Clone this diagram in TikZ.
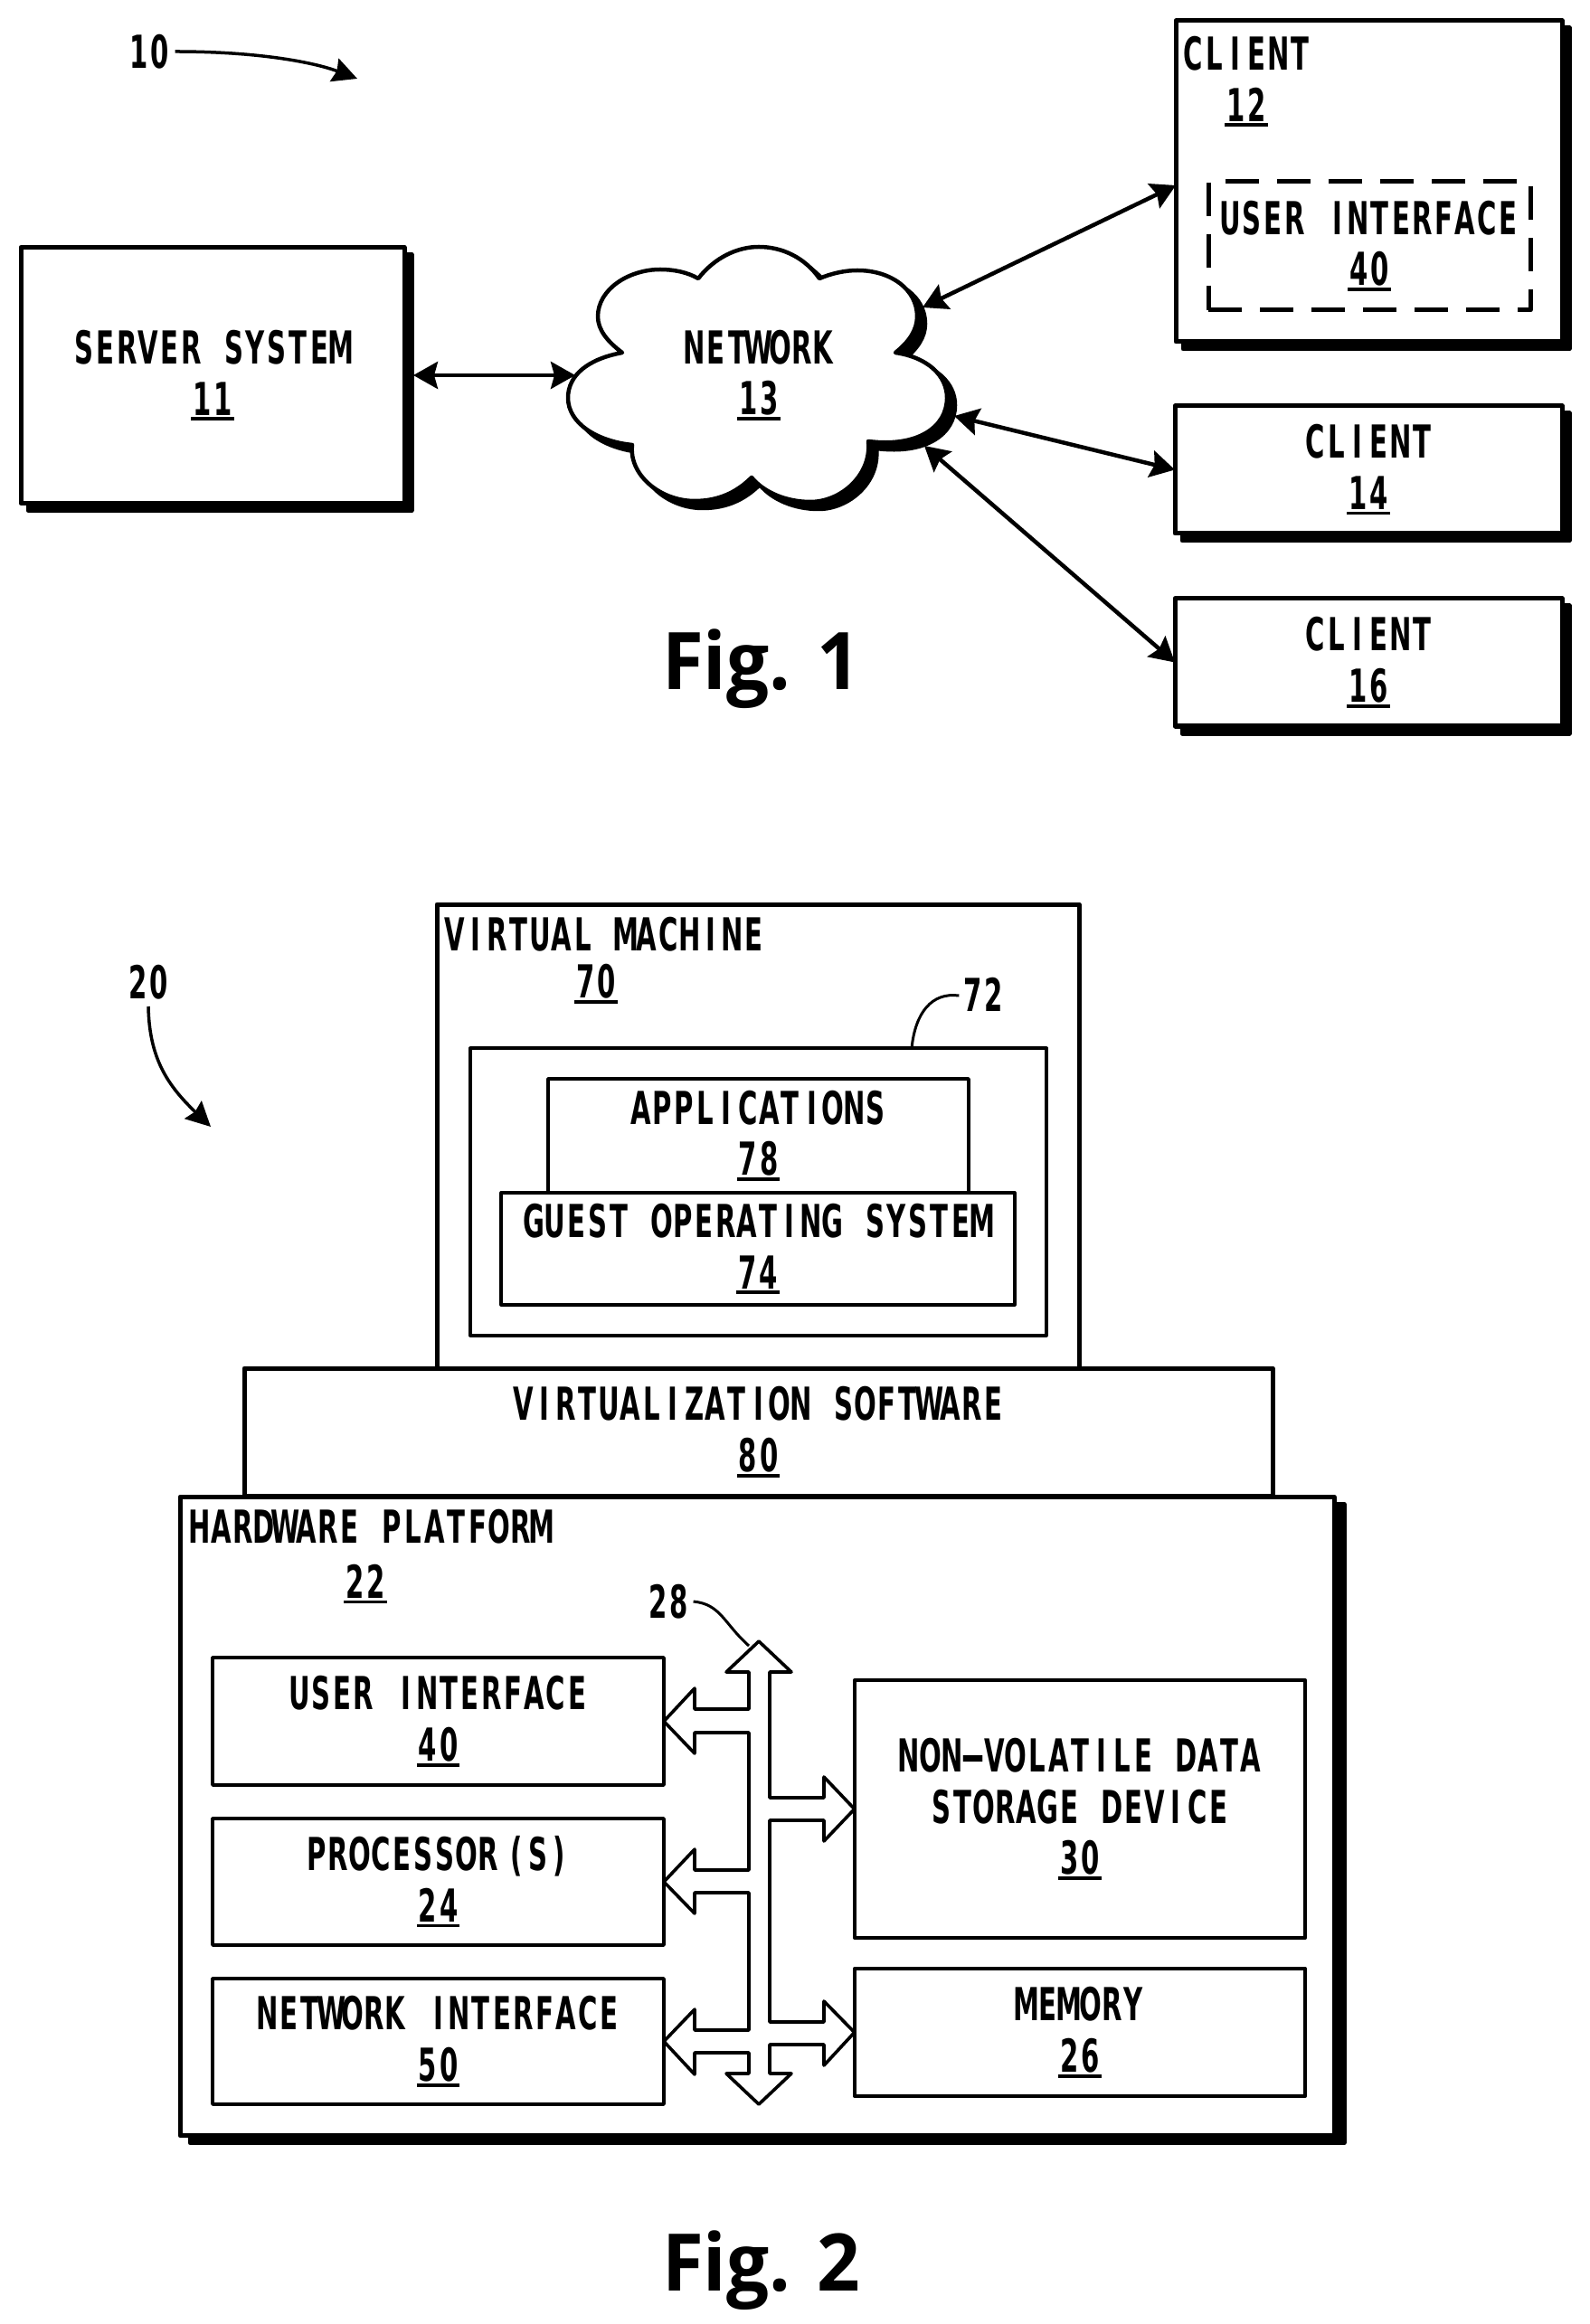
\documentclass[tikz,border=0pt]{standalone}
\usepackage{fontspec}
\usetikzlibrary{arrows.meta}
\usetikzlibrary{shadows}

\newfontfamily\lblfam{DejaVu Sans}[FakeStretch=0.58]
\newfontfamily\figfam{Open Sans}[FakeStretch=0.95]
\newcommand{\lblfont}{\lblfam\bfseries\fontsize{14.3}{16.2}\selectfont}

% every letter sits in a cell of the same width
\let\monoend\relax
\newlength{\monow}
\setlength{\monow}{6.72pt}
\def\monochar#1{\ifx#1\monoend\else\makebox[\monow]{#1}\expandafter\monochar\fi}
\newcommand{\mono}[1]{\monochar#1\monoend}
\newcommand{\refnum}[1]{\leavevmode\vtop{\hbox{\mono{#1}}\kern0.5pt\hrule height 1.1pt}}
\newcommand{\widedash}{\scalebox{2.4}[1]{-}}

\tikzset{
  box/.style={draw,fill=white,line width=0.05cm,line join=round,inner sep=0pt,outer sep=0pt,align=center,font=\lblfont},
  thinbox/.style={box,line width=0.036cm},
  shadowbox/.style={box,general shadow={fill=black,draw=black,shadow xshift=#1,shadow yshift=-0.08cm}},
  shadowbox/.default=0.08cm,
  dashbox/.style={box,fill=none,dash pattern=on 0.37cm off 0.2cm},
  lbl/.style={inner sep=0pt,outer sep=0pt,align=center,font=\lblfont},
  figlbl/.style={anchor=base,inner sep=0pt,outer sep=0pt,font=\figfam\bfseries\fontsize{25}{25}\selectfont},
  link/.style={line width=0.045cm,{Stealth[length=0.27cm,width=0.30cm,inset=0.04cm]}-{Stealth[length=0.27cm,width=0.30cm,inset=0.04cm]}},
  pointer/.style={line width=0.035cm,-{Stealth[length=0.27cm,width=0.27cm,inset=0.03cm]}},
  leader/.style={line width=0.03cm},
  bus/.style={draw,fill=white,line width=0.036cm,line join=round}
}

\newcommand{\cloudpath}{
  (7.72,-3.08) .. controls (7.90,-2.85) and (8.15,-2.73) .. (8.39,-2.73)
  .. controls (8.65,-2.73) and (8.90,-2.85) .. (9.06,-3.08)
  .. controls (9.20,-3.02) and (9.35,-2.99) .. (9.48,-2.99)
  .. controls (9.85,-2.99) and (10.14,-3.20) .. (10.14,-3.50)
  .. controls (10.14,-3.65) and (10.05,-3.78) .. (9.90,-3.90)
  .. controls (10.25,-3.95) and (10.47,-4.15) .. (10.47,-4.40)
  .. controls (10.47,-4.72) and (10.15,-4.95) .. (9.60,-4.88)
  .. controls (9.64,-5.25) and (9.30,-5.55) .. (8.96,-5.55)
  .. controls (8.70,-5.55) and (8.45,-5.45) .. (8.31,-5.28)
  .. controls (8.15,-5.44) and (7.95,-5.54) .. (7.68,-5.54)
  .. controls (7.30,-5.54) and (6.95,-5.25) .. (6.99,-4.92)
  .. controls (6.60,-4.88) and (6.28,-4.68) .. (6.28,-4.40)
  .. controls (6.28,-4.15) and (6.50,-3.97) .. (6.88,-3.90)
  .. controls (6.72,-3.78) and (6.61,-3.65) .. (6.61,-3.50)
  .. controls (6.61,-3.20) and (6.95,-2.98) .. (7.30,-2.98)
  .. controls (7.45,-2.98) and (7.60,-3.01) .. (7.72,-3.08) -- cycle}

\begin{document}
\begin{tikzpicture}
  \useasboundingbox (0,0) rectangle (17.57,-25.70);

  % Fig. 1
  \node[lbl] (num10) at (1.65,-0.57) {\mono{10}};
  \coordinate (aim10) at (3.95,-0.87);
  \draw[pointer] (num10.east) ++(0.05,0) .. controls (2.90,-0.57) and (3.50,-0.70) .. (aim10);

  % Server
  \node[shadowbox,minimum width=4.24cm,minimum height=2.83cm] (server) at (2.35,-4.15)
    {\mono{SERVER~SYSTEM}\\\refnum{11}};

  % Network
  \filldraw[black,line width=0.045cm,line join=round,shift={(0.09,-0.08)}] \cloudpath;
  \draw[fill=white,line width=0.045cm,line join=round] \cloudpath;
  \node[lbl] (network) at (8.39,-4.15) {\mono{NETWORK}\\\refnum{13}};
  \coordinate (netw) at (6.36,-4.15);
  \coordinate (netne) at (10.20,-3.40);
  \coordinate (nete) at (10.55,-4.60);
  \coordinate (netse) at (10.22,-4.93);

  % Clients
  \node[shadowbox,minimum width=4.27cm,minimum height=3.55cm] (client12) at (15.135,-2.005) {};
  \node[lbl] (client12lbl) at (13.78,-0.90) {\mono{CLIENT}\\\refnum{12}};
  \node[dashbox,minimum width=3.56cm,minimum height=1.42cm] (ui40) at (15.14,-2.72)
    {\mono{USER~INTERFACE}\\\refnum{40}};
  \node[shadowbox,minimum width=4.28cm,minimum height=1.41cm] (client14) at (15.13,-5.195)
    {\mono{CLIENT}\\\refnum{14}};
  \node[shadowbox,minimum width=4.28cm,minimum height=1.41cm] (client16) at (15.13,-7.325)
    {\mono{CLIENT}\\\refnum{16}};

  % Links
  \draw[link] (server.east) ++(0.10,0) -- (netw);
  \draw[link] (netne) -- (client12.west |- 0,-2.05);
  \draw[link] (nete) -- (client14.west);
  \draw[link] (netse) -- (client16.west);

  \node[figlbl] (fig1) at (8.415,-7.62) {Fig. 1};

  % Fig. 2
  \node[lbl] (num20) at (1.64,-10.86) {\mono{20}};
  \coordinate (aim20) at (2.33,-12.46);
  \draw[pointer] (num20.south) ++(0,-0.08) .. controls (1.65,-11.70) and (1.85,-12.00) .. (aim20);

  % Virtual machine
  \node[box,minimum width=7.10cm,minimum height=5.13cm] (vm) at (8.38,-12.565) {};
  \node[lbl] (vmname) at (6.68,-10.33) {\mono{VIRTUAL~MACHINE}};
  \node[lbl] (vmnum) at (6.59,-10.88) {\refnum{70}};
  \node[thinbox,minimum width=6.37cm,minimum height=3.175cm] (guest) at (8.385,-13.18) {};
  \node[lbl] (num72) at (10.87,-11.00) {\mono{72}};
  \draw[leader] (num72.west) ++(-0.03,-0.01) .. controls (10.30,-10.97) and (10.12,-11.20) .. (10.08,-11.59);
  \node[thinbox,minimum width=4.65cm,minimum height=1.26cm] (apps) at (8.385,-12.56)
    {\mono{APPLICATIONS}\\\refnum{78}};
  \node[thinbox,minimum width=5.675cm,minimum height=1.24cm] (guestos) at (8.38,-13.81)
    {\mono{GUEST~OPERATING~SYSTEM}\\\refnum{74}};

  % Virtualization layer
  \node[box,minimum width=11.37cm,minimum height=1.41cm] (virt) at (8.385,-15.835)
    {\mono{VIRTUALIZATION~SOFTWARE}\\\refnum{80}};

  % Hardware
  \node[shadowbox=0.11cm,minimum width=12.76cm,minimum height=7.065cm] (hw) at (8.37,-20.085) {};
  \node[lbl] (hwname) at (4.10,-16.88) {\mono{HARDWARE~PLATFORM}};
  \node[lbl] (hwnum) at (4.04,-17.52) {\refnum{22}};

  \node[thinbox,minimum width=4.99cm,minimum height=1.41cm] (ui) at (4.845,-19.035)
    {\mono{USER~INTERFACE}\\\refnum{40}};
  \node[thinbox,minimum width=4.99cm,minimum height=1.40cm] (cpu) at (4.845,-20.81)
    {\mono{PROCESSOR}\,\mono{(S)}\\\refnum{24}};
  \node[thinbox,minimum width=4.99cm,minimum height=1.39cm] (nic) at (4.845,-22.575)
    {\mono{NETWORK~INTERFACE}\\\refnum{50}};
  \node[thinbox,minimum width=4.985cm,minimum height=2.85cm] (disk) at (11.94,-20.005)
    {\mono{NON\widedash VOLATILE~DATA}\\\mono{STORAGE~DEVICE}\\\refnum{30}};
  \node[thinbox,minimum width=4.985cm,minimum height=1.41cm] (mem) at (11.94,-22.475)
    {\mono{MEMORY}\\\refnum{26}};

  % Bus
  \draw[bus] (8.39,-18.15) -- (8.75,-18.49) -- (8.51,-18.49) -- (8.51,-19.88) -- (9.11,-19.88) -- (9.11,-19.65)
    -- (disk.west) -- (9.11,-20.36) -- (9.11,-20.13) -- (8.51,-20.13) -- (8.51,-22.36) -- (9.11,-22.36) -- (9.11,-22.13)
    -- (mem.west) -- (9.11,-22.84) -- (9.11,-22.61) -- (8.51,-22.61) -- (8.51,-22.93) -- (8.75,-22.93)
    -- (8.39,-23.27) -- (8.03,-22.93) -- (8.28,-22.93) -- (8.28,-22.70) -- (7.68,-22.70) -- (7.68,-22.94)
    -- (nic.east) -- (7.68,-22.22) -- (7.68,-22.45) -- (8.28,-22.45) -- (8.28,-20.93) -- (7.68,-20.93) -- (7.68,-21.16)
    -- (cpu.east) -- (7.68,-20.45) -- (7.68,-20.68) -- (8.28,-20.68) -- (8.28,-19.16) -- (7.68,-19.16) -- (7.68,-19.39)
    -- (ui.east) -- (7.68,-18.67) -- (7.68,-18.90) -- (8.28,-18.90) -- (8.28,-18.49) -- (8.03,-18.49) -- cycle;
  \node[lbl] (num28) at (7.39,-17.71) {\mono{28}};
  \draw[leader] (num28.east) ++(0.04,0) .. controls (7.97,-17.74) and (8.00,-17.95) .. (8.28,-18.20);

  \node[figlbl] (fig2) at (8.415,-25.33) {Fig. 2};
\end{tikzpicture}
\end{document}
